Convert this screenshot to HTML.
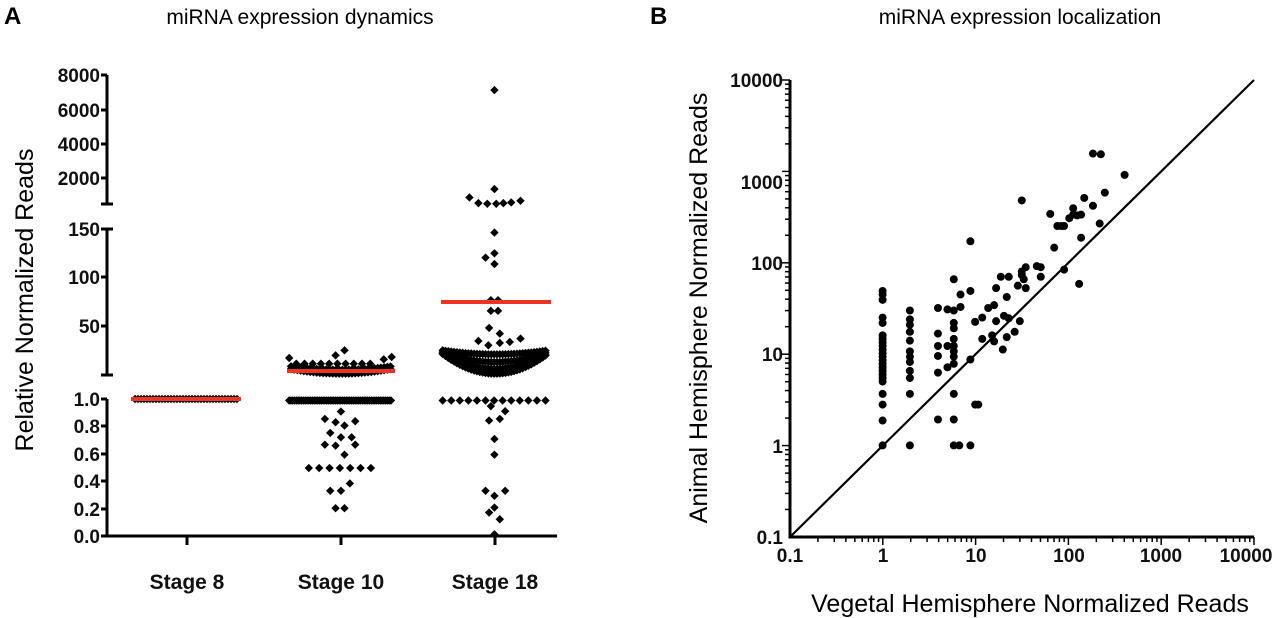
<!DOCTYPE html>
<html><head><meta charset="utf-8"><style>
html,body{margin:0;padding:0;background:#fff;}
svg{display:block;font-family:"Liberation Sans",Arial,sans-serif;}
</style></head><body>
<svg id="s" width="1280" height="618" viewBox="0 0 1280 618" xmlns="http://www.w3.org/2000/svg">
<rect width="1280" height="618" fill="#fff"/>
<text x="4" y="24" font-size="24" font-weight="bold">A</text>
<text x="300" y="24" font-size="21" text-anchor="middle">miRNA expression dynamics</text>
<text x="650" y="24" font-size="24" font-weight="bold">B</text>
<text x="1020" y="24" font-size="21" text-anchor="middle">miRNA expression localization</text>
<text transform="translate(33,300) rotate(-90)" font-size="25" text-anchor="middle">Relative Normalized Reads</text>
<text transform="translate(707,308) rotate(-90)" font-size="25" text-anchor="middle">Animal Hemisphere Normalized Reads</text>
<text x="1030" y="612" font-size="25" text-anchor="middle">Vegetal Hemisphere Normalized Reads</text>
<g stroke="#000" stroke-width="3" fill="none">
<path d="M107 75V204M101 75H107M101 110H107M101 144H107M101 178H107M101 204H113"/>
<path d="M107 229V375M101 229H113M101 277H107M101 326H107M101 375H113"/>
<path d="M107 399V536H557M101 399H107M101 426H107M101 454H107M101 481H107M101 509H107M101 536H107M187 536V545M341 536V545M495 536V545"/>
<path d="M790 80V537H1254"/>
<path stroke-width="2.2" d="M790 537L1254 80"/>
</g>
<g font-size="19" text-anchor="end" font-weight="bold" fill="#111">
<text x="100" y="82">8000</text><text x="100" y="117">6000</text><text x="100" y="151">4000</text><text x="100" y="185">2000</text>
<text x="100" y="236">150</text><text x="100" y="284">100</text><text x="100" y="333">50</text>
<text x="100" y="406">1.0</text><text x="100" y="433">0.8</text><text x="100" y="461">0.6</text><text x="100" y="488">0.4</text><text x="100" y="516">0.2</text><text x="100" y="543">0.0</text>
</g>
<g font-size="21" text-anchor="middle" font-weight="bold" fill="#111">
<text x="187" y="589">Stage 8</text><text x="341" y="589">Stage 10</text><text x="495" y="589">Stage 18</text>
</g>
<g font-size="19" font-weight="bold" fill="#111" text-anchor="end">
<text x="783" y="87">10000</text><text x="783" y="189">1000</text><text x="783" y="270">100</text><text x="783" y="361">10</text><text x="783" y="453">1</text><text x="783" y="544">0.1</text>
</g>
<g font-size="19" font-weight="bold" fill="#111" text-anchor="middle">
<text x="790" y="562">0.1</text><text x="883" y="562">1</text><text x="976" y="562">10</text><text x="1069" y="562">100</text><text x="1161" y="562">1000</text><text x="1246" y="562">10000</text>
</g>
<g id="ticks" stroke="#000" stroke-width="1.5"></g>
<g id="pts" fill="#000"></g>
<g stroke="#ee3322" stroke-width="4">
<path d="M131 399H241M287 371H395M441 302H551"/>
</g>
</svg>
<script>
var ns="http://www.w3.org/2000/svg",P=document.getElementById("pts"),T=document.getElementById("ticks");
function el(t,a,p){var e=document.createElementNS(ns,t);for(var k in a)e.setAttribute(k,a[k]);p.appendChild(e);}
function D(x,y){el("path",{d:"M"+x+" "+(y-4.2)+"l4.2 4.2l-4.2 4.2l-4.2-4.2z"},P);}
function C(x,y){el("circle",{cx:x,cy:y,r:4},P);}
for(var d=0;d<5;d++){for(var m=2;m<=9;m++){var o=Math.log10(m)*92.8;
el("line",{x1:790+d*92.8+o,y1:537,x2:790+d*92.8+o,y2:542},T);
el("line",{x1:785,y1:537-d*91.4-o*91.4/92.8,x2:790,y2:537-d*91.4-o*91.4/92.8},T);}
el("line",{x1:790+(d+1)*92.8,y1:537,x2:790+(d+1)*92.8,y2:545},T);
el("line",{x1:782,y1:537-(d+1)*91.4,x2:790,y2:537-(d+1)*91.4},T);}
function Z(zx,zy){D(zx*0.357,59.3+zy*0.3345);}
for(var x=135;x<=237;x+=3)D(x,399);
[[965,870],[940,885],[810,893],[1097,890],[1075,897],[955,1053],[910,1075],[940,1085],[965,1095],[995,1082],[925,1117],[955,1130],[985,1130],[910,1152],[940,1155],[995,1152],[965,1182],[925,1290],[955,1290],[980,1268],[940,1342],[965,1342]].forEach(function(p){Z(p[0],p[1]);});
for(var i=0;i<7;i++)Z(865+i*29,1222);
for(var zx=830;zx<=1055;zx+=23)Z(zx,910);
for(var zx=815;zx<=1095;zx+=9){var t=(zx-955)/140;Z(zx,940-14*t*t);Z(zx,928-10*t*t);}
for(var zx=810;zx<=1095;zx+=5)Z(zx,1020);
[[1385,92],[1385,388],[1315,413],[1340,430],[1365,432],[1390,432],[1410,430],[1432,428],[1458,423],[1385,518],[1385,580],[1360,593],[1385,612],[1375,720],[1395,720],[1375,752],[1395,752],[1370,803],[1400,820],[1340,842],[1368,855],[1400,848],[1428,845],[1458,835],[1375,1037],[1415,1052],[1370,1080],[1400,1075],[1385,1135],[1385,1182],[1360,1290],[1385,1305],[1415,1290],[1385,1340],[1370,1355],[1400,1375],[1385,1420]].forEach(function(p){Z(p[0],p[1]);});
for(var zx=1240;zx<=1535;zx+=8){var t=(zx-1387)/148;Z(zx,940-60*t*t);Z(zx,925-45*t*t);Z(zx,905-30*t*t);Z(zx,882-12*t*t);}
for(var i=0;i<13;i++)Z(1240+i*24,1020);
function B(zx,zy){C(660+zx*0.3954,62+zy*0.355);}
[645,655,670,720,735,770,780,790,800,810,820,830,840,850,860,870,880,890,900,935,965,1010,1080].forEach(function(y){B(563,y);});
[700,725,740,760,785,815,830,845,870,890,935,1080].forEach(function(y){B(632,y);});
[693,765,800,828,875,1007].forEach(function(y){B(703,y);});
[697,800,860].forEach(function(y){B(727,y);});
[612,700,735,750,780,800,815,830,850,935,1007,1080].forEach(function(y){B(743,y);});
[[757,1080],[760,655],[760,690],[785,645],[785,838],[785,1080],[785,505],[797,732],[797,965],[805,965],[815,720],[815,780],[830,693],[840,770],[845,685],[850,637],[850,730],[845,787],[862,605],[867,810],[870,715],[877,662],[877,775],[882,605],[882,722],[897,760],[905,630],[910,730],[915,590],[915,600],[915,390],[920,612],[925,578],[925,637],[953,575],[963,578],[963,605],[987,428],[997,523],[1005,462],[1015,462],[1022,462],[1022,585],[1035,440],[1045,412],[1045,430],[1055,432],[1060,625],[1065,430],[1065,495],[1073,383],[1095,405],[1095,258],[1112,455],[1115,260],[1125,368],[1175,318]].forEach(function(p){B(p[0],p[1]);});
</script>
</body></html>
